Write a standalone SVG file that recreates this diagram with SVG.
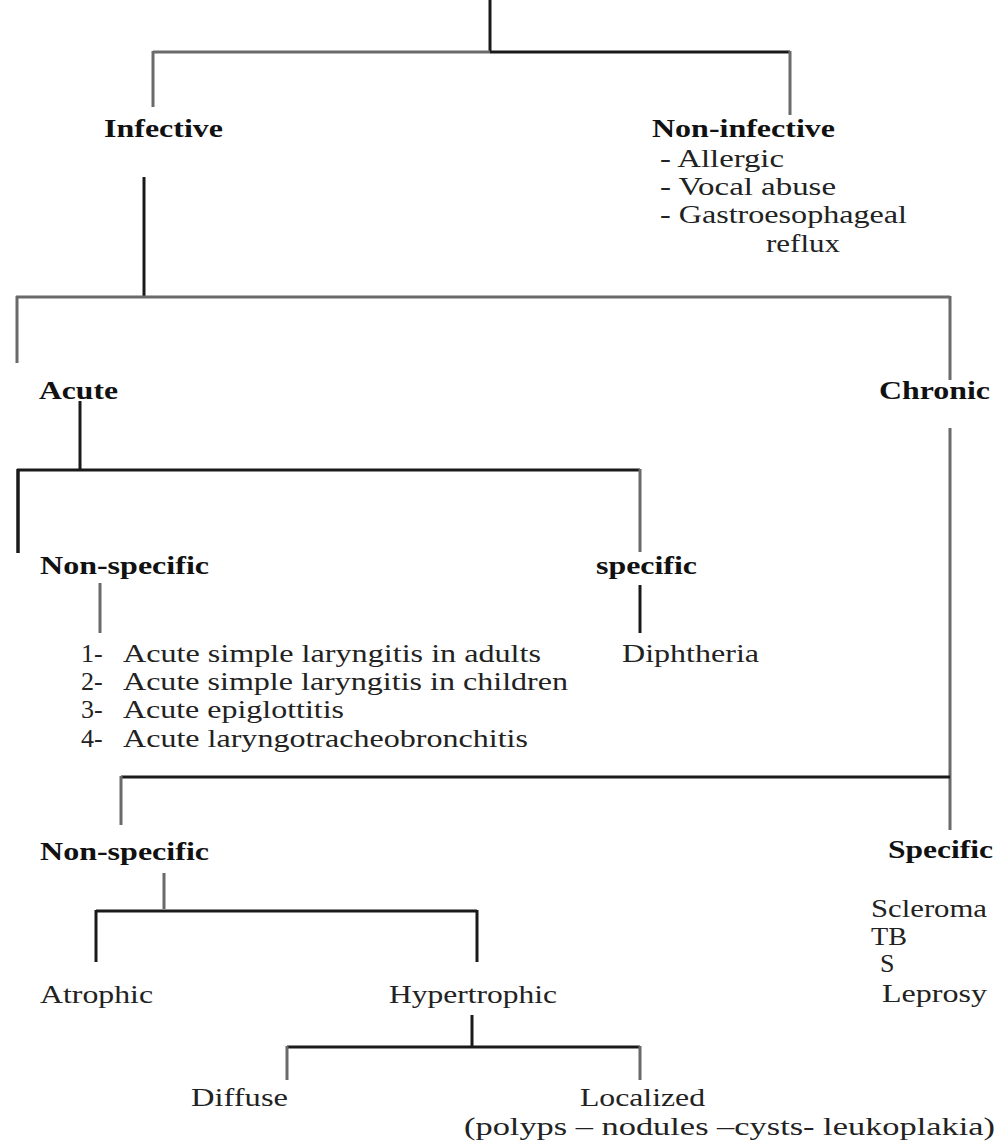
<svg xmlns="http://www.w3.org/2000/svg" width="996" height="1142" viewBox="0 0 996 1142">
<style>
text{font-family:"Liberation Serif","Times New Roman",serif;font-size:26px;fill:#222}
.b{font-weight:bold;fill:#111}
.dk{stroke:#1a1a1a;stroke-width:3;fill:none}
.gr{stroke:#6a6a6a;stroke-width:3;fill:none}
</style>
<rect width="996" height="1142" fill="#fff"/>
<g id="connectors">
<path class="dk" d="M490 0V52"/>
<path class="gr" d="M153 52H490"/>
<path class="dk" d="M490 52H790"/>
<path class="gr" d="M153 51V107M790 51V115"/>
<path class="dk" d="M144 177V297"/>
<path class="gr" d="M16 297H950M17 296V363M950 296V380"/>
<path class="dk" d="M80 401V470M17 470H640"/>
<path class="dk" d="M18 469V553" style="stroke-width:3.5"/>
<path class="gr" d="M640 469V552M100 583V633"/>
<path class="dk" d="M640 585V633"/>
<path class="gr" d="M950 428V830"/>
<path class="dk" d="M121 777H950"/>
<path class="gr" d="M121 776V825M164 873V909"/>
<path class="dk" d="M96 911H477M96 910V962M477 910V962"/>
<path class="dk" d="M472 1015V1047M287 1047H640"/>
<path class="gr" d="M287 1046V1080M640 1046V1080"/>
</g>
<g id="n-infective"><text class="b" x="104" y="137" textLength="119" lengthAdjust="spacingAndGlyphs">Infective</text></g>
<g id="n-noninfective">
<text class="b" x="652" y="137" textLength="183" lengthAdjust="spacingAndGlyphs">Non-infective</text>
<text x="660" y="167" textLength="124" lengthAdjust="spacingAndGlyphs">- Allergic</text>
<text x="660" y="195" textLength="176" lengthAdjust="spacingAndGlyphs">- Vocal abuse</text>
<text x="660" y="223" textLength="247" lengthAdjust="spacingAndGlyphs">- Gastroesophageal</text>
<text x="766" y="252" textLength="74" lengthAdjust="spacingAndGlyphs">reflux</text>
</g>
<g id="n-acute"><text class="b" x="39" y="399" textLength="79" lengthAdjust="spacingAndGlyphs">Acute</text></g>
<g id="n-chronic"><text class="b" x="879" y="399" textLength="111" lengthAdjust="spacingAndGlyphs">Chronic</text></g>
<g id="n-acute-nonspecific">
<text class="b" x="40" y="574" textLength="169" lengthAdjust="spacingAndGlyphs">Non-specific</text>
<text x="81" y="662">1-</text><text x="123" y="662" textLength="418" lengthAdjust="spacingAndGlyphs">Acute simple laryngitis in adults</text>
<text x="81" y="690">2-</text><text x="123" y="690" textLength="445" lengthAdjust="spacingAndGlyphs">Acute simple laryngitis in children</text>
<text x="81" y="718">3-</text><text x="123" y="718" textLength="221" lengthAdjust="spacingAndGlyphs">Acute epiglottitis</text>
<text x="81" y="747">4-</text><text x="123" y="747" textLength="405" lengthAdjust="spacingAndGlyphs">Acute laryngotracheobronchitis</text>
</g>
<g id="n-acute-specific">
<text class="b" x="596" y="574" textLength="101" lengthAdjust="spacingAndGlyphs">specific</text>
<text x="622" y="662" textLength="137" lengthAdjust="spacingAndGlyphs">Diphtheria</text>
</g>
<g id="n-chronic-nonspecific"><text class="b" x="40" y="860" textLength="169" lengthAdjust="spacingAndGlyphs">Non-specific</text></g>
<g id="n-chronic-specific">
<text class="b" x="888" y="858" textLength="105" lengthAdjust="spacingAndGlyphs">Specific</text>
<text x="871" y="917" textLength="116" lengthAdjust="spacingAndGlyphs">Scleroma</text>
<text x="871" y="945" textLength="36" lengthAdjust="spacingAndGlyphs">TB</text>
<text x="880" y="972">S</text>
<text x="882" y="1002" textLength="105" lengthAdjust="spacingAndGlyphs">Leprosy</text>
</g>
<g id="n-atrophic"><text x="40" y="1003" textLength="113" lengthAdjust="spacingAndGlyphs">Atrophic</text></g>
<g id="n-hypertrophic"><text x="389" y="1003" textLength="168" lengthAdjust="spacingAndGlyphs">Hypertrophic</text></g>
<g id="n-diffuse"><text x="191" y="1106" textLength="97" lengthAdjust="spacingAndGlyphs">Diffuse</text></g>
<g id="n-localized">
<text x="580" y="1106" textLength="125" lengthAdjust="spacingAndGlyphs">Localized</text>
<text x="464" y="1135" textLength="531" lengthAdjust="spacingAndGlyphs">(polyps – nodules –cysts- leukoplakia)</text>
</g>
</svg>
